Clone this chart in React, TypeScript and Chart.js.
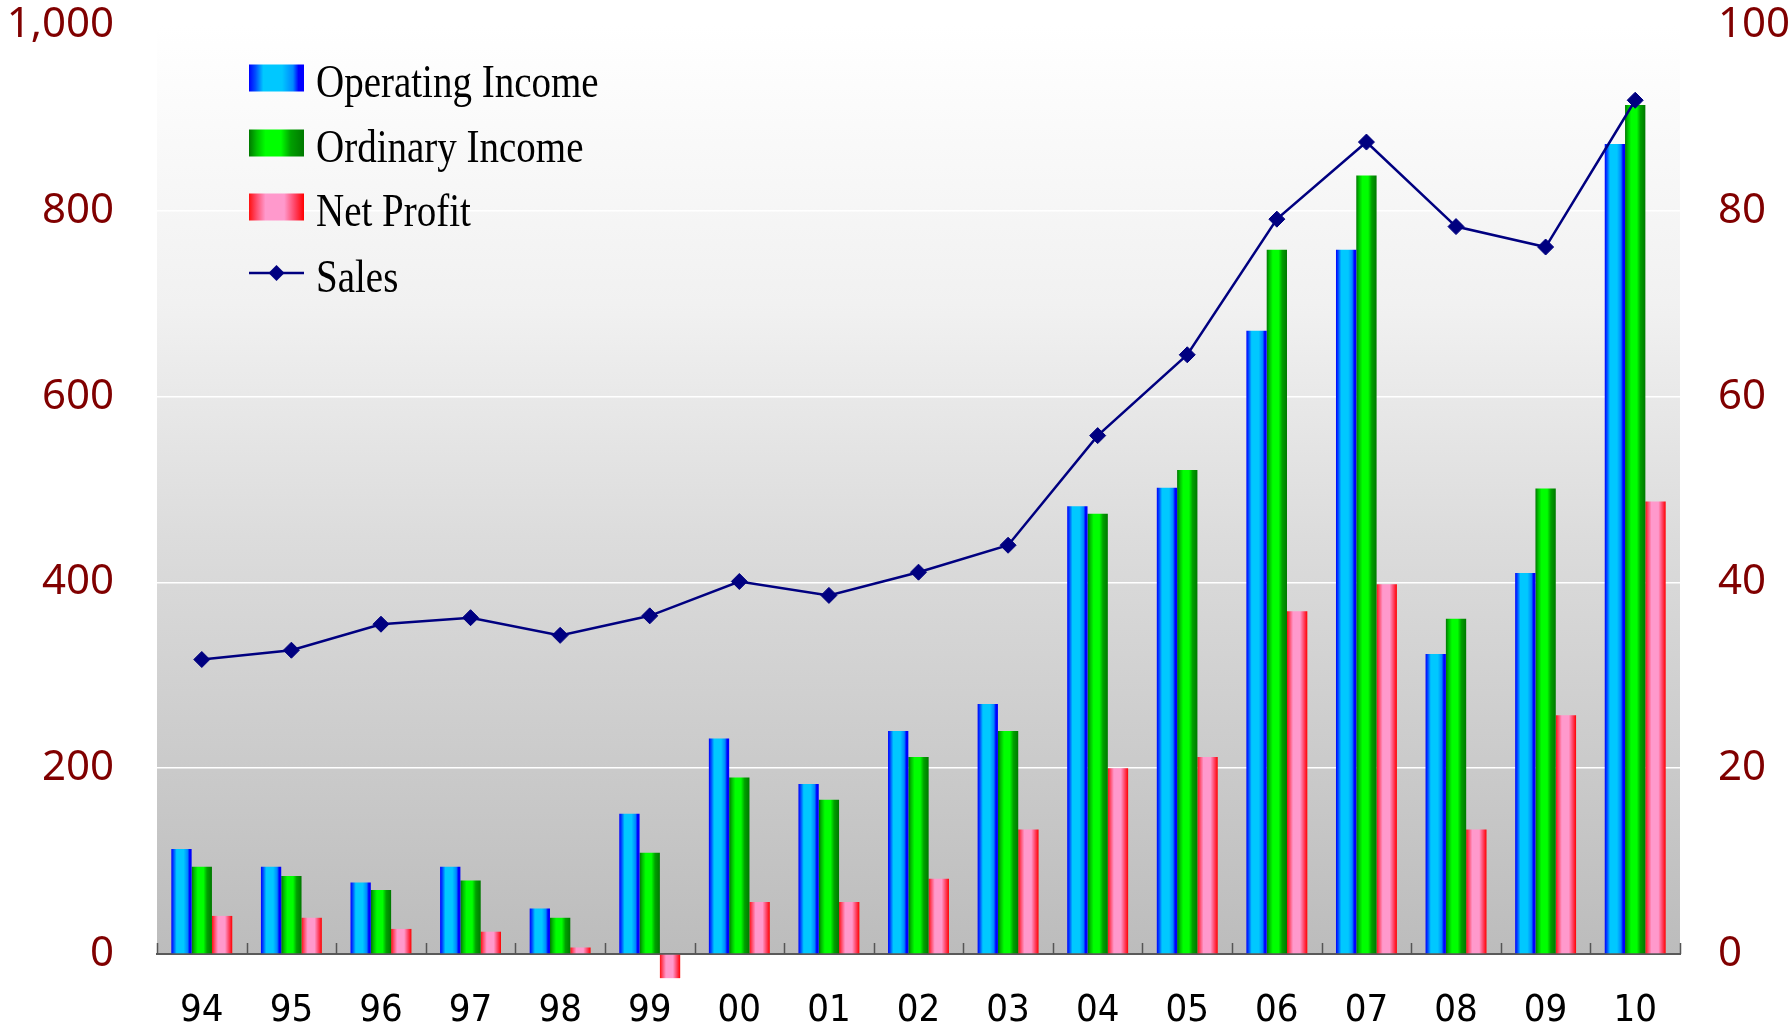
import React, { useEffect, useRef } from 'react';
import { Chart, registerables } from 'chart.js';

Chart.register(...registerables);

// ---- data ----
const categories = ['94', '95', '96', '97', '98', '99', '00', '01', '02', '03', '04', '05', '06', '07', '08', '09', '10'];
const operatingIncome = [113, 94, 77, 94, 49, 151, 232, 183, 240, 269, 482, 502, 671, 758, 323, 410, 872];
const ordinaryIncome = [94, 84, 69, 79, 39, 109, 190, 166, 212, 240, 474, 521, 758, 838, 361, 501, 914];
const netProfit = [41, 39, 27, 24, 7, -26, 56, 56, 81, 134, 200, 212, 369, 398, 134, 257, 487];
const sales = [31.7, 32.7, 35.5, 36.2, 34.3, 36.4, 40.1, 38.6, 41.1, 44.0, 55.8, 64.5, 79.1, 87.4, 78.3, 76.1, 91.9];
const seriesLabels = ['Operating Income', 'Ordinary Income', 'Net Profit', 'Sales'];
const leftAxis = { min: 0, max: 1000, step: 200 };
const rightAxis = { min: 0, max: 100, step: 20 };

// ---- styles ----
const CAT_PCT = 0.68;
const blueStops: [number, string][] = [[0, '#0000ff'], [0.12, '#0050ff'], [0.26, '#00c8ff'], [0.6, '#00c8ff'], [0.8, '#0088ff'], [0.9, '#0000ff'], [1, '#0000ff']];
const greenStops: [number, string][] = [[0, '#007800'], [0.14, '#00c000'], [0.3, '#00ff00'], [0.58, '#00ff00'], [0.76, '#00a000'], [1, '#007800']];
const redStops: [number, string][] = [[0, '#ff1010'], [0.14, '#ff5070'], [0.3, '#ff99cc'], [0.64, '#ff99cc'], [0.84, '#ff4060'], [1, '#ff0000']];
const navy = '#000080';
const axisLabelColor = '#800000';

function gradient(ctx: CanvasRenderingContext2D, x0: number, x1: number, stops: [number, string][]) {
  const g = ctx.createLinearGradient(x0, 0, x1, 0);
  stops.forEach(([o, c]) => g.addColorStop(o, c));
  return g;
}

function barBg(stops: [number, string][], dsIdx: number) {
  return (c: any) => {
    const chart = c.chart;
    const xs = chart.scales && chart.scales.x;
    if (!xs || c.dataIndex === undefined || !xs.width) return stops[2][1];
    const center = xs.getPixelForValue(c.dataIndex);
    const catW = xs.width / categories.length;
    const bw = (catW * CAT_PCT) / 3;
    const left = center - 1.5 * bw + dsIdx * bw;
    return gradient(chart.ctx, left, left + bw, stops);
  };
}

const bgPlugin = {
  id: 'plotBg',
  beforeDraw(chart: any) {
    const { ctx, chartArea: a } = chart;
    if (!a) return;
    const g = ctx.createLinearGradient(0, a.top, 0, a.bottom);
    g.addColorStop(0, '#ffffff');
    g.addColorStop(0.3, '#f1f1f1');
    g.addColorStop(0.55, '#dcdcdc');
    g.addColorStop(1, '#bcbcbc');
    ctx.save();
    ctx.fillStyle = g;
    ctx.fillRect(a.left, a.top, a.right - a.left, a.bottom - a.top);
    ctx.restore();
  },
};

const tickPlugin = {
  id: 'innerTicks',
  afterDatasetsDraw(chart: any) {
    const { ctx } = chart;
    const xs = chart.scales.x;
    const ys = chart.scales.y;
    const y0 = ys.getPixelForValue(0);
    const n = categories.length;
    ctx.save();
    ctx.strokeStyle = '#555555';
    ctx.lineWidth = 1.5;
    ctx.beginPath();
    for (let i = 0; i <= n; i++) {
      const x = Math.round(xs.left + (i * xs.width) / n) + 0.5;
      ctx.moveTo(x, y0);
      ctx.lineTo(x, y0 - 11);
    }
    ctx.stroke();
    ctx.restore();
  },
};

const legendPlugin = {
  id: 'customLegend',
  afterDraw(chart: any) {
    const { ctx } = chart;
    const x0 = 249;
    const sw = 55;
    const sh = 27;
    const tx = 316;
    const centers = [78, 143, 207, 273];
    const stopsList = [blueStops, greenStops, redStops];
    ctx.save();
    seriesLabels.forEach((label, i) => {
      const cy = centers[i];
      if (i < 3) {
        ctx.fillStyle = gradient(ctx, x0, x0 + sw, stopsList[i]);
        ctx.fillRect(x0, cy - sh / 2, sw, sh);
      } else {
        ctx.strokeStyle = navy;
        ctx.lineWidth = 2.5;
        ctx.beginPath();
        ctx.moveTo(x0, cy);
        ctx.lineTo(x0 + sw, cy);
        ctx.stroke();
        const cx = x0 + sw / 2;
        const r = 8;
        ctx.fillStyle = navy;
        ctx.beginPath();
        ctx.moveTo(cx, cy - r);
        ctx.lineTo(cx + r, cy);
        ctx.lineTo(cx, cy + r);
        ctx.lineTo(cx - r, cy);
        ctx.closePath();
        ctx.fill();
      }
      ctx.save();
      ctx.translate(tx, cy + 19);
      ctx.scale(1, 1.17);
      ctx.fillStyle = '#000000';
      ctx.textBaseline = 'alphabetic';
      ctx.textAlign = 'left';
      ctx.font = "39px 'Liberation Serif', 'Times New Roman', serif";
      ctx.fillText(label, 0, 0);
      ctx.restore();
    });
    ctx.restore();
  },
};

export default function App() {
  const ref = useRef<HTMLCanvasElement | null>(null);

  useEffect(() => {
    if (!ref.current) return;
    const axisFont = { family: "'Noto Sans', 'DejaVu Sans', sans-serif", size: 42 };
    const noVPad = (s: any) => { s.paddingTop = 0; s.paddingBottom = 0; };
    const chart = new Chart(ref.current, {
      type: 'bar',
      data: {
        labels: categories,
        datasets: [
          { type: 'bar', label: seriesLabels[0], data: operatingIncome, backgroundColor: barBg(blueStops, 0) as any, borderWidth: 0, yAxisID: 'y', order: 1, categoryPercentage: CAT_PCT, barPercentage: 1 },
          { type: 'bar', label: seriesLabels[1], data: ordinaryIncome, backgroundColor: barBg(greenStops, 1) as any, borderWidth: 0, yAxisID: 'y', order: 1, categoryPercentage: CAT_PCT, barPercentage: 1 },
          { type: 'bar', label: seriesLabels[2], data: netProfit, backgroundColor: barBg(redStops, 2) as any, borderWidth: 0, yAxisID: 'y', order: 1, categoryPercentage: CAT_PCT, barPercentage: 1, clip: false as any },
          { type: 'line', label: seriesLabels[3], data: sales, yAxisID: 'y1', order: 0, borderColor: navy, borderWidth: 2.5, backgroundColor: navy, pointStyle: 'rectRot', pointRadius: 8, pointHoverRadius: 8, pointBackgroundColor: navy, pointBorderColor: navy, pointBorderWidth: 1, tension: 0, fill: false },
        ] as any,
      },
      options: {
        animation: false,
        responsive: true,
        maintainAspectRatio: false,
        devicePixelRatio: 1,
        layout: { padding: { top: 25, left: 0, right: 0, bottom: 0 } },
        plugins: { legend: { display: false }, tooltip: { enabled: false } },
        scales: {
          x: {
            type: 'category',
            offset: true,
            grid: { display: false, drawTicks: false },
            border: { display: true, color: '#5a5a5a', width: 2 },
            ticks: { color: '#000000', padding: 34, maxRotation: 0, font: { family: "'Liberation Sans Narrow', 'DejaVu Sans Condensed', Roboto, sans-serif", size: 38 } },
            afterFit: (s: any) => { s.height = 70; s.paddingLeft = 0; s.paddingRight = 0; },
          },
          y: {
            position: 'left',
            min: leftAxis.min,
            max: leftAxis.max,
            grid: {
              drawTicks: false,
              color: (c: any) => (c.tick && (c.tick.value === leftAxis.min || c.tick.value === leftAxis.max) ? 'rgba(0,0,0,0)' : '#ffffff'),
              lineWidth: 1.5,
            },
            border: { display: false },
            ticks: {
              stepSize: leftAxis.step,
              color: axisLabelColor,
              padding: 43,
              font: axisFont,
              callback: (v: any) => Number(v).toLocaleString('en-US'),
            },
            afterFit: (s: any) => { s.width = 157; noVPad(s); },
          },
          y1: {
            position: 'right',
            min: rightAxis.min,
            max: rightAxis.max,
            grid: { display: false, drawTicks: false },
            border: { display: false },
            ticks: { stepSize: rightAxis.step, color: axisLabelColor, padding: 38, font: axisFont },
            afterFit: (s: any) => { s.width = 110; noVPad(s); },
          },
        },
      } as any,
      plugins: [bgPlugin, tickPlugin, legendPlugin],
    });
    return () => chart.destroy();
  }, []);

  return (
    <div style={{ position: 'fixed', left: 0, top: 0, width: 1790, height: 1024, background: '#ffffff' }}>
      <canvas ref={ref} />
    </div>
  );
}
